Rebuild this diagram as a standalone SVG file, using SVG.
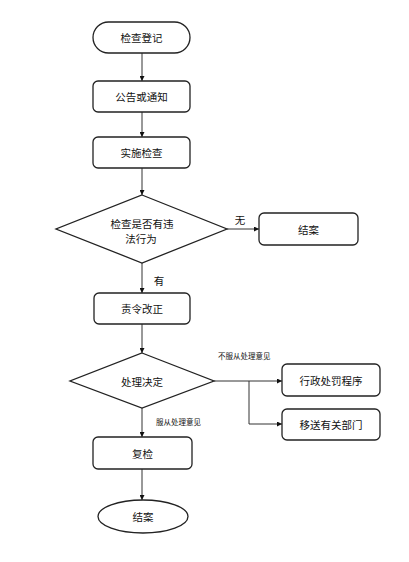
<svg xmlns="http://www.w3.org/2000/svg" width="409" height="562" viewBox="0 0 409 562">
<defs>
<style>
.n{fill:#fff;stroke:#222;stroke-width:1.3}
.t{font-family:"Noto Sans CJK SC","Noto Sans",sans-serif;font-size:10.5px;fill:#111;text-anchor:middle;dominant-baseline:central}
.s{font-family:"Noto Sans CJK SC","Noto Sans",sans-serif;font-size:7.5px;fill:#111;text-anchor:start;dominant-baseline:central}
.c{fill:none;stroke:#333;stroke-width:1}
</style>
<marker id="a" viewBox="0 0 10 10" refX="10" refY="5" markerWidth="5" markerHeight="5" orient="auto" markerUnits="userSpaceOnUse">
<path d="M0,0 L10,5 L0,10 Z" fill="#111"/>
</marker>
</defs>
<rect width="409" height="562" fill="#fff"/>
<g id="connectors">
<line class="c" x1="142" y1="53" x2="142" y2="81" marker-end="url(#a)"/>
<line class="c" x1="142" y1="112" x2="142" y2="137" marker-end="url(#a)"/>
<line class="c" x1="142" y1="168" x2="142" y2="195" marker-end="url(#a)"/>
<line class="c" x1="227" y1="229" x2="259" y2="229" marker-end="url(#a)"/>
<line class="c" x1="142" y1="263" x2="142" y2="293" marker-end="url(#a)"/>
<line class="c" x1="142" y1="324" x2="142" y2="353" marker-end="url(#a)"/>
<line class="c" x1="214" y1="381" x2="282" y2="381" marker-end="url(#a)"/>
<polyline class="c" points="249,381 249,424 282,424" marker-end="url(#a)"/>
<line class="c" x1="142" y1="408" x2="142" y2="437" marker-end="url(#a)"/>
<line class="c" x1="142" y1="469" x2="142" y2="500" marker-end="url(#a)"/>
<text class="t" x="240" y="219">无</text>
<text class="t" x="159" y="280">有</text>
<text class="s" x="218" y="355">不服从处理意见</text>
<text class="s" x="156" y="421">服从处理意见</text>
</g>
<g id="start">
<rect class="n" x="93" y="22" width="97" height="31" rx="15.5"/>
<text class="t" x="141.5" y="37.5">检查登记</text>
</g>
<g id="notice">
<rect class="n" x="93" y="81" width="97" height="31" rx="5"/>
<text class="t" x="141.5" y="96.5">公告或通知</text>
</g>
<g id="inspect">
<rect class="n" x="93" y="137" width="97" height="31" rx="5"/>
<text class="t" x="141.5" y="152.5">实施检查</text>
</g>
<g id="violation">
<polygon class="n" points="142,195 227,229 142,263 56,229"/>
<text class="t" x="142" y="223">检查是否有违</text>
<text class="t" x="141" y="238">法行为</text>
</g>
<g id="close1">
<rect class="n" x="259" y="213" width="99" height="32" rx="5"/>
<text class="t" x="308.5" y="229">结案</text>
</g>
<g id="rectify">
<rect class="n" x="94" y="293" width="96" height="31" rx="5"/>
<text class="t" x="142" y="308.5">责令改正</text>
</g>
<g id="decision">
<polygon class="n" points="142,353 214,381 142,408 70,381"/>
<text class="t" x="142" y="381">处理决定</text>
</g>
<g id="penalty">
<rect class="n" x="282" y="364" width="98" height="32" rx="5"/>
<text class="t" x="331" y="380">行政处罚程序</text>
</g>
<g id="transfer">
<rect class="n" x="282" y="409" width="98" height="31" rx="5"/>
<text class="t" x="331" y="424.5">移送有关部门</text>
</g>
<g id="recheck">
<rect class="n" x="93" y="437" width="99" height="32" rx="5"/>
<text class="t" x="142.5" y="453">复检</text>
</g>
<g id="end">
<ellipse class="n" cx="143" cy="516.5" rx="45" ry="16.5"/>
<text class="t" x="143" y="516.5">结案</text>
</g>
</svg>
